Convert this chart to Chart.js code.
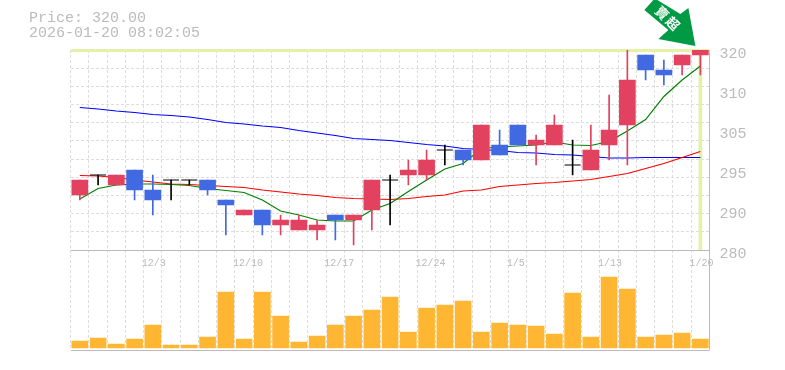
<!DOCTYPE html>
<html>
<head>
<meta charset="utf-8">
<style>
body { margin: 0; background: #fff; }
canvas { display: block; }
</style>
<script src="https://cdn.jsdelivr.net/npm/chart.js@4"></script>
</head>
<body>
<canvas id="myChart" width="785" height="370"></canvas>
<script>
var categories = ['11/27', '11/28', '12/1', '12/2', '12/3', '12/4', '12/5', '12/8', '12/9', '12/10', '12/11', '12/12',
    '12/15', '12/16', '12/17', '12/18', '12/19', '12/22', '12/23', '12/24', '12/25', '12/26', '12/29', '12/30',
    '1/5', '1/6', '1/7', '1/8', '1/9', '1/13', '1/14', '1/15', '1/16', '1/19', '1/20'];
var shownDates = ['12/3', '12/10', '12/17', '12/24', '1/5', '1/13', '1/20'];

var opens = [291, 295, 293, 296, 292, 294, 294, 294, 290, 287, 288, 285, 284, 284, 287, 286, 288, 294, 295, 295,
    300, 300, 298, 301, 305, 301, 301, 297, 296, 301, 305, 319, 316, 317, 319];
var closes = [294, 295, 295, 292, 290, 294, 294, 292, 289, 288, 285, 286, 286, 285, 286, 287, 294, 294, 296, 298,
    300, 298, 305, 299, 301, 302, 305, 297, 300, 304, 314, 316, 315, 319, 320];
var highs = [294, 295, 295, 296, 295, 294, 294, 294, 290, 288, 288, 287, 287, 286, 287, 287, 294, 295, 298, 300,
    301, 300, 305, 304, 305, 303, 307, 302, 305, 311, 320, 319, 318, 319, 320];
var lows = [290, 293, 293, 290, 287, 290, 293, 291, 283, 287, 283, 283, 284, 282, 282, 281, 284, 285, 293, 294,
    297, 297, 298, 299, 301, 297, 301, 295, 296, 298, 297, 314, 313, 315, 315];

var maShort = [290.2, 292.3, 293, 293.2, 293.2, 293.1, 292.9, 292.3, 291.9, 291.5, 290, 287.8, 287, 286, 285.8, 285.8,
    288, 289.3, 291.7, 294, 296.2, 297.3, 300.3, 300.6, 300.8, 301, 301.6, 301, 300.9, 301.7, 303.8, 306.1, 310.7, 314, 316.8];
var maMid = [294.9, 294.8, 294.5, 294, 293.6, 293.2, 293.1, 292.9, 292.7, 292.5, 292, 291.6, 291.2, 290.9, 290.5, 290.3,
    290.2, 290.1, 290.3, 290.7, 291, 291.8, 292, 292.7, 293, 293.3, 293.5, 293.8, 294.1, 294.7, 295.3, 296.3, 297.3, 298.5, 299.7];
var maLong = [308.5, 308.2, 307.8, 307.5, 307.1, 306.9, 306.6, 306.1, 305.5, 305.2, 304.8, 304.5, 303.9, 303.4, 302.9, 302.3,
    302.1, 301.9, 301.5, 301.1, 300.8, 300.3, 300.1, 299.9, 299.5, 299.4, 299.1, 299, 298.7, 298.4, 298.4, 298.5, 298.5, 298.5, 298.5];

var volumes = [7, 10, 4, 9, 23, 3, 3, 11, 56, 9, 56, 32, 6, 12, 23, 32, 38, 51, 16, 40, 43, 47, 16, 25, 23, 22, 14, 55, 11, 71, 59, 11, 13, 15, 9];

var priceLabels = ['320', '310', '305', '295', '290', '280'];
var priceLabelValues = [320, 312, 304, 296, 288, 280];
var lastPrice = 320;
var infoLines = ['Price: 320.00', '2026-01-20 08:02:05'];
var signalText = ['賣', '超'];

var RED = '#e2415f';
var BLUE = '#4169e1';
var TEXT = '#bbbbbb';
var GRID = '#dddddd';
var MONO = '"Liberation Mono", monospace';

function candleColor(i) {
    if (closes[i] > opens[i]) return RED;
    if (closes[i] < opens[i]) return BLUE;
    return '#000000';
}

var signalArrow = {
    id: 'signalArrow',
    afterDatasetsDraw: function (chart) {
        var c = chart.ctx;
        var tipX = chart.scales.x.getPixelForValue(categories.length - 1) - 5;
        var tipY = chart.scales.y.getPixelForValue(lastPrice) - 4;
        c.save();
        c.translate(tipX, tipY);
        c.fillStyle = '#009944';
        c.beginPath();
        c.moveTo(0, 0);
        c.lineTo(-7, -38);
        c.lineTo(-15, -32);
        c.lineTo(-38, -46);
        c.lineTo(-42, -46);
        c.lineTo(-51, -36);
        c.lineTo(-27, -16);
        c.lineTo(-37, -7);
        c.closePath();
        c.fill();
        c.rotate(Math.PI / 4);
        c.fillStyle = '#ffffff';
        c.font = 'bold 13px "Noto Sans CJK TC"';
        c.textAlign = 'center';
        c.textBaseline = 'middle';
        c.fillText(signalText[0], -47, 0);
        c.fillText(signalText[1], -32, 0);
        c.restore();
    }
};

var ctx = document.getElementById('myChart');
var myChart = new Chart(ctx, {
    type: 'bar',
    data: {
        labels: categories,
        datasets: [
            // candle bodies
            {
                data: opens.map(function (o, i) { return o === closes[i] ? null : [o, closes[i]]; }),
                backgroundColor: function (c) { return candleColor(c.dataIndex); },
                barThickness: 16, grouped: false, yAxisID: 'y', order: 1
            },
            // wicks
            {
                data: lows.map(function (l, i) { return [l, highs[i]]; }),
                backgroundColor: function (c) { return candleColor(c.dataIndex); },
                barThickness: 1, grouped: false, yAxisID: 'y', order: 2
            },
            // open = close, only a flat line
            {
                type: 'line',
                data: opens.map(function (o, i) { return o === closes[i] ? o : null; }),
                showLine: false, pointStyle: 'line', pointRadius: 8, pointBorderColor: '#000000', pointBorderWidth: 1,
                yAxisID: 'y', order: 0
            },
            { type: 'line', data: maShort, borderColor: '#008000', borderWidth: 1.2, pointRadius: 0, yAxisID: 'y', order: 3 },
            { type: 'line', data: maMid, borderColor: '#ff0000', borderWidth: 1.2, pointRadius: 0, yAxisID: 'y', order: 3 },
            { type: 'line', data: maLong, borderColor: '#0000ff', borderWidth: 1.2, pointRadius: 0, yAxisID: 'y', order: 3 },
            // current day marker
            {
                data: categories.map(function (d, i) { return i === categories.length - 1 ? [280, lastPrice] : null; }),
                backgroundColor: '#e3f2a6', barThickness: 3, grouped: false, yAxisID: 'y', order: 5
            },
            { data: volumes, backgroundColor: '#ffb733', barThickness: 16, grouped: false, yAxisID: 'yVol', order: 4 }
        ]
    },
    plugins: [signalArrow],
    options: {
        responsive: false,
        animation: false,
        events: [],
        layout: { padding: { left: 29, top: 0, right: 0, bottom: 20 } },
        plugins: {
            legend: { display: false },
            tooltip: { enabled: false },
            title: {
                display: true,
                text: infoLines,
                align: 'start',
                color: TEXT,
                font: { family: MONO, size: 15, weight: 'normal', lineHeight: 1 },
                padding: { top: 11, bottom: 9 }
            }
        },
        scales: {
            x: {
                position: { y: 280 },
                offset: true,
                grid: {
                    offset: true,
                    drawTicks: false,
                    color: function (c) { return c.tick ? GRID : TEXT; }
                },
                border: {
                    display: false,
                    dash: function (c) { return c.tick ? [3, 2] : []; }
                },
                ticks: {
                    autoSkip: false,
                    maxRotation: 0,
                    align: 'start',
                    labelOffset: -11,
                    padding: 7,
                    color: TEXT,
                    font: { family: MONO, size: 10 },
                    callback: function (v) {
                        var d = categories[v];
                        return shownDates.indexOf(d) >= 0 ? d : '';
                    }
                }
            },
            yVol: {
                stack: 'panels',
                stackWeight: 1,
                position: 'left',
                min: -2,
                max: 98,
                afterFit: function (s) { s.width = 41.7; },
                afterBuildTicks: function (s) { s.ticks = [{ value: -2 }]; },
                ticks: { display: false },
                grid: { drawTicks: false, color: TEXT },
                border: { display: false }
            },
            y: {
                stack: 'panels',
                stackWeight: 2,
                position: 'left',
                min: 280,
                max: 320,
                afterFit: function (s) { s.width = 41.7; },
                ticks: { display: false, count: 12 },
                grid: {
                    drawTicks: false,
                    color: function (c) {
                        if (c.tick.value === lastPrice) return '#e3f2a6';
                        return c.tick.value === 280 ? TEXT : GRID;
                    },
                    lineWidth: function (c) { return c.tick.value === lastPrice ? 3 : 1; }
                },
                border: {
                    display: false,
                    dash: function (c) {
                        return c.tick.value === lastPrice || c.tick.value === 280 ? [] : [3, 2];
                    }
                }
            },
            // price labels sit a little under the price they name
            yLabels: {
                position: 'right',
                min: 260.8,
                max: 320.8,
                afterFit: function (s) { s.width = 75.5; },
                afterBuildTicks: function (s) {
                    s.ticks = priceLabelValues.map(function (v) { return { value: v }; });
                },
                grid: { display: false, drawTicks: false },
                border: { display: false },
                ticks: {
                    padding: 10,
                    color: TEXT,
                    font: { family: MONO, size: 15 },
                    callback: function (v) { return priceLabels[priceLabelValues.indexOf(v)]; }
                }
            }
        }
    }
});
</script>
</body>
</html>
